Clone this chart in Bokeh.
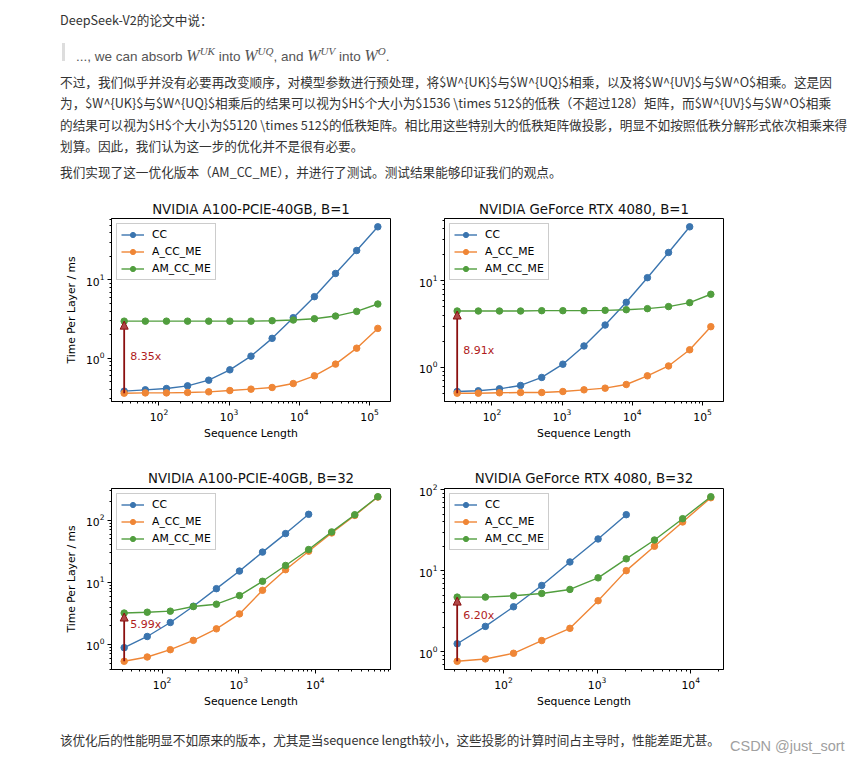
import math
from bokeh.plotting import figure
from bokeh.layouts import column, row
from bokeh.models import (Div, Spacer, Arrow, NormalHead, Legend, LegendItem, LogTicker,
                          Range1d, Label, Title)
from bokeh.embed import file_html
from bokeh.resources import INLINE

# ---------------- data ----------------
seq_len = [32, 64, 128, 256, 512, 1024, 2048, 4096, 8192, 16384, 32768, 65536, 131072]
series_names = ["CC", "A_CC_ME", "AM_CC_ME"]

titles = ["NVIDIA A100-PCIE-40GB, B=1", "NVIDIA GeForce RTX 4080, B=1",
          "NVIDIA A100-PCIE-40GB, B=32", "NVIDIA GeForce RTX 4080, B=32"]

a100_b1_cc = [0.378, 0.393, 0.408, 0.442, 0.522, 0.708, 1.06, 1.79, 3.29, 6.11, 12.1, 23.8, 47.8]
a100_b1_a = [0.356, 0.359, 0.359, 0.363, 0.370, 0.385, 0.401, 0.421, 0.473, 0.594, 0.838, 1.34, 2.40]
a100_b1_am = [2.97, 2.97, 2.97, 2.97, 2.97, 2.97, 2.97, 3.01, 3.07, 3.19, 3.45, 3.96, 4.92]

rtx_b1_cc = [0.527, 0.537, 0.566, 0.619, 0.766, 1.09, 1.77, 3.09, 5.66, 10.9, 21.3, 42.2]
rtx_b1_a = [0.504, 0.504, 0.509, 0.513, 0.513, 0.527, 0.551, 0.576, 0.635, 0.800, 1.04, 1.60, 2.96]
rtx_b1_am = [4.49, 4.49, 4.49, 4.49, 4.53, 4.53, 4.53, 4.57, 4.65, 4.78, 5.05, 5.61, 7.01]

a100_b32_cc = [0.885, 1.34, 2.25, 4.12, 7.91, 15.2, 30.7, 61.1, 125]
a100_b32_a = [0.534, 0.626, 0.821, 1.16, 1.78, 3.10, 7.45, 16.0, 31.8, 62.6, 120, 237]
a100_b32_am = [3.20, 3.30, 3.43, 4.07, 4.44, 6.11, 10.4, 18.7, 33.8, 65.0, 123, 240]

rtx_b32_cc = [1.25, 2.05, 3.58, 6.56, 12.8, 24.6, 49.1]
rtx_b32_a = [0.760, 0.812, 0.954, 1.37, 1.94, 4.25, 10.0, 20.0, 39.9, 79.5]
rtx_b32_am = [4.71, 4.71, 4.89, 5.23, 5.86, 8.15, 14.0, 23.9, 43.8, 81.8]

speedup_labels = ["8.35x", "8.91x", "5.99x", "6.20x"]
speedup_label_y = [1.04, 1.57, 2.09, 2.77]

colors = ["#3b75af", "#ef8636", "#519e3e"]
ARROW_COLOR = "#8b1010"
LABEL_COLOR = "#b01c1c"
FONT = "DejaVu Sans"


def log_range(vals):
    lo = math.log10(min(vals))
    hi = math.log10(max(vals))
    pad = 0.05 * (hi - lo)
    return Range1d(start=10 ** (lo - pad), end=10 ** (hi + pad))


def make_fig(title, cc, a, am, ratio_text, label_y, width, height, frame_h, left, right,
             ylabel, title_standoff):
    xs = [seq_len[:len(cc)], seq_len[:len(a)], seq_len[:len(am)]]
    ys = [cc, a, am]
    all_x = xs[0] + xs[1] + xs[2]
    all_y = cc + a + am
    p = figure(width=width, height=height, x_axis_type="log", y_axis_type="log",
               x_range=log_range(all_x), y_range=log_range(all_y),
               output_backend="svg", toolbar_location=None,
               min_border_left=left, min_border_right=right,
               min_border_top=24, min_border_bottom=height - 24 - frame_h)
    p.title = Title(text=title, align="center", text_font=FONT, text_font_size="13.3px",
                    text_font_style="normal", text_color="#111111", standoff=title_standoff)

    p.grid.visible = False
    p.outline_line_color = "black"
    p.outline_line_alpha = 1
    p.outline_line_width = 1
    p.background_fill_color = "white"
    p.border_fill_color = "white"

    for ax in (p.xaxis, p.yaxis):
        ax.ticker = LogTicker(num_minor_ticks=10)
        ax.major_tick_in = 0
        ax.major_tick_out = 4
        ax.minor_tick_in = 0
        ax.minor_tick_out = 2
        ax.major_tick_line_color = "black"
        ax.minor_tick_line_color = "black"
        ax.axis_line_color = "black"
        ax.major_label_text_font = FONT
        ax.major_label_text_font_size = "10.8px"
        ax.major_label_text_color = "black"
        ax.major_label_standoff = 3
        ax.axis_label_text_font = FONT
        ax.axis_label_text_font_size = "10.8px"
        ax.axis_label_text_font_style = "normal"
        ax.axis_label_text_color = "black"
    p.xaxis.axis_label = "Sequence Length"
    p.xaxis.axis_label_standoff = 3
    if ylabel:
        p.yaxis.axis_label = "Time Per Layer / ms"
        p.yaxis.axis_label_standoff = 5

    items = []
    for name, x, y, c in zip(series_names, xs, ys, colors):
        rl = p.line(x, y, line_color=c, line_width=1.4)
        rs = p.scatter(x, y, size=6.5, fill_color=c, line_color=c)
        items.append(LegendItem(label=name, renderers=[rl, rs]))

    arrow = Arrow(end=NormalHead(size=8, fill_color="#b04848", line_color=ARROW_COLOR, line_width=1),
                  x_start=seq_len[0], y_start=a[0], x_end=seq_len[0], y_end=am[0],
                  line_color=ARROW_COLOR, line_width=1.8)
    p.add_layout(arrow)
    p.add_layout(Label(x=seq_len[0], y=label_y, x_offset=6, text=ratio_text,
                       text_color=LABEL_COLOR, text_font=FONT, text_font_size="11px",
                       text_baseline="middle", text_align="left"))

    legend = Legend(items=items, location="top_left", margin=5, padding=4, spacing=4,
                    glyph_width=23, glyph_height=13, label_height=13, label_standoff=8,
                    label_text_font=FONT, label_text_font_size="10.8px", label_text_color="black",
                    border_line_color="#cccccc", border_line_alpha=1, border_line_width=1,
                    background_fill_alpha=0.8)
    p.add_layout(legend)
    return p


f1 = make_fig(titles[0], a100_b1_cc, a100_b1_a, a100_b1_am, speedup_labels[0], speedup_label_y[0],
              340, 255, 183, 53, 8, True, 4)
f2 = make_fig(titles[1], rtx_b1_cc, rtx_b1_a, rtx_b1_am, speedup_labels[1], speedup_label_y[1],
              342, 255, 183, 46, 17, False, 4)
f3 = make_fig(titles[2], a100_b32_cc, a100_b32_a, a100_b32_am, speedup_labels[2], speedup_label_y[2],
              340, 253, 181, 53, 8, True, 6)
f4 = make_fig(titles[3], rtx_b32_cc, rtx_b32_a, rtx_b32_am, speedup_labels[3], speedup_label_y[3],
              342, 253, 181, 46, 17, False, 6)

# ---------------- page text ----------------
intro = "DeepSeek-V2的论文中说："
para_lines = [
    "不过，我们似乎并没有必要再改变顺序，对模型参数进行预处理，将$W^{UK}$与$W^{UQ}$相乘，以及将$W^{UV}$与$W^O$相乘。这是因",
    "为，$W^{UK}$与$W^{UQ}$相乘后的结果可以视为$H$个大小为$1536 \\times 512$的低秩（不超过128）矩阵，而$W^{UV}$与$W^O$相乘",
    "的结果可以视为$H$个大小为$5120 \\times 512$的低秩矩阵。相比用这些特别大的低秩矩阵做投影，明显不如按照低秩分解形式依次相乘来得",
    "划算。因此，我们认为这一步的优化并不是很有必要。",
]
impl_line = "我们实现了这一优化版本（AM_CC_ME），并进行了测试。测试结果能够印证我们的观点。"
concl_line = "该优化后的性能明显不如原来的版本，尤其是当sequence length较小，这些投影的计算时间占主导时，性能差距尤甚。"
watermark = "CSDN @just_sort"


def mw(sup):
    return ('<span style="font-family:\'Liberation Serif\';font-style:italic;font-size:16px;">W'
            '<sup style="font-size:11px;vertical-align:6px;">%s</sup></span>' % sup)


quote_html = ("..., we can absorb " + mw("UK") + " into " + mw("UQ") + ", and " + mw("UV")
              + " into " + mw("O") + ".")

base = "font-family:'Noto Sans CJK SC';font-size:12.65px;color:#333333;white-space:nowrap;"
top_html = (
    '<div style="position:relative;width:852px;height:194px;%s">' % base
    + '<div style="position:absolute;left:60px;top:10px;line-height:20px;">%s</div>' % intro
    + '<div style="position:absolute;left:62px;top:43px;width:3px;height:18px;background:#dddddd;"></div>'
    + '<div style="position:absolute;left:76px;top:39px;line-height:24px;color:#555555;'
      'font-family:\'Liberation Sans\';font-size:13.5px;">%s</div>' % quote_html
    + '<div style="position:absolute;left:60px;top:71px;line-height:21.3px;">%s</div>' % "<br>".join(para_lines)
    + '<div style="position:absolute;left:60px;top:162px;line-height:20px;">%s</div>' % impl_line
    + '</div>'
)
bottom_html = (
    '<div style="position:relative;width:852px;height:38px;%s">' % base
    + '<div style="position:absolute;left:60px;top:13px;line-height:20px;letter-spacing:-0.1px;">%s</div>' % concl_line
    + '<div style="position:absolute;left:730px;top:20px;line-height:18px;font-family:\'Liberation Sans\';'
      'font-size:14.5px;color:#a0a0a0;">%s</div>' % watermark
    + '</div>'
)

top_div = Div(text=top_html, width=852, height=194, margin=(0, 0, 0, 0))
bottom_div = Div(text=bottom_html, width=852, height=38, margin=(0, 0, 0, 0))

layout = column(
    top_div,
    row(Spacer(width=58, height=255), f1, f2),
    Spacer(width=10, height=15),
    row(Spacer(width=58, height=253), f3, f4),
    bottom_div,
)

open("out.html", "w").write(file_html(layout, INLINE))
